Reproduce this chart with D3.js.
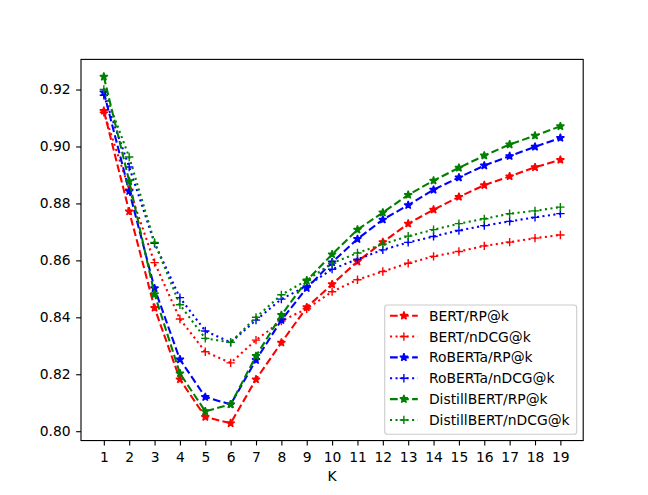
<!DOCTYPE html>
<html>
<head>
<meta charset="utf-8">
<script src="https://cdn.jsdelivr.net/npm/d3@7"></script>
<style>
  html, body { margin: 0; padding: 0; background: #fff; }
  svg { display: block; }
  text { font-family: "DejaVu Sans", sans-serif; }
</style>
</head>
<body>
<div id="chart"></div>
<script>
const K = [1,2,3,4,5,6,7,8,9,10,11,12,13,14,15,16,17,18,19];
const xTickLabels = K.map(String);
const yTicks = [0.80, 0.82, 0.84, 0.86, 0.88, 0.90, 0.92];

const bertRP      = [0.9125,0.8772,0.8433,0.8182,0.8050,0.8028,0.8182,0.8311,0.8435,0.8516,0.8596,0.8664,0.8729,0.8778,0.8823,0.8864,0.8895,0.8927,0.8953];
const bertNDCG    = [0.9120,0.8850,0.8592,0.8394,0.8279,0.8240,0.8320,0.8387,0.8430,0.8490,0.8532,0.8561,0.8590,0.8614,0.8631,0.8651,0.8664,0.8678,0.8689];
const robertaRP   = [0.9190,0.8843,0.8502,0.8252,0.8120,0.8094,0.8250,0.8390,0.8503,0.8593,0.8675,0.8743,0.8794,0.8848,0.8891,0.8933,0.8966,0.8999,0.9030];
const robertaNDCG = [0.9180,0.8928,0.8660,0.8469,0.8352,0.8312,0.8390,0.8464,0.8510,0.8569,0.8604,0.8637,0.8663,0.8684,0.8705,0.8722,0.8737,0.8751,0.8764];
const distilRP    = [0.9245,0.8878,0.8481,0.8203,0.8070,0.8094,0.8264,0.8408,0.8529,0.8621,0.8708,0.8768,0.8830,0.8880,0.8925,0.8968,0.9007,0.9038,0.9071];
const distilNDCG  = [0.9200,0.8963,0.8663,0.8444,0.8326,0.8312,0.8400,0.8479,0.8530,0.8590,0.8626,0.8657,0.8685,0.8708,0.8729,0.8746,0.8764,0.8774,0.8787];

const seriesNames = ["BERT/RP@k","BERT/nDCG@k","RoBERTa/RP@k","RoBERTa/nDCG@k","DistillBERT/RP@k","DistillBERT/nDCG@k"];
const seriesValues = [bertRP, bertNDCG, robertaRP, robertaNDCG, distilRP, distilNDCG];
const seriesColors = ["#ff0000","#ff0000","#0000ff","#0000ff","#008000","#008000"];
const seriesKinds  = ["rp","ndcg","rp","ndcg","rp","ndcg"];

(function () {
const W = 648, H = 495;
const pt = 100/72;
const axL = 81, axR = 583.2, axT = 59.4, axB = 440.55;

const allVals = seriesValues.flat();
const vmin = d3.min(allVals), vmax = d3.max(allVals);
const vm = (vmax - vmin) * 0.05;
const km = (d3.max(K) - d3.min(K)) * 0.05;

const x = d3.scaleLinear().domain([d3.min(K) - km, d3.max(K) + km]).range([axL, axR]);
const y = d3.scaleLinear().domain([vmin - vm, vmax + vm]).range([axB, axT]);

const svg = d3.select("#chart").append("svg").attr("width", W).attr("height", H);
svg.append("rect").attr("width", W).attr("height", H).attr("fill", "#fff");

const fontSize = 10 * pt;
const lw = 1.5 * pt;
const dashRP = [3.7*1.5*pt, 1.6*1.5*pt].join(",");
const dashND = [1*1.5*pt, 1.65*1.5*pt].join(",");

function starPath(r) {
  const pts = [];
  for (let i = 0; i < 10; i++) {
    const th = 2*Math.PI/10*i + Math.PI/2;
    const rr = i % 2 === 0 ? r : r*0.381966;
    pts.push([rr*Math.cos(th), -rr*Math.sin(th)]);
  }
  return "M" + pts.map(p => p[0].toFixed(3) + "," + p[1].toFixed(3)).join("L") + "Z";
}
const msR = 3 * pt;
const STAR = starPath(msR);
const PLUS = `M${-msR},0L${msR},0M0,${-msR}L0,${msR}`;

function drawMarker(g, kind, color, cx, cy) {
  if (kind === "rp") {
    g.append("path").attr("d", STAR).attr("transform", `translate(${cx},${cy})`)
      .attr("fill", color).attr("stroke", color).attr("stroke-width", 1*pt)
      .attr("stroke-linejoin", "bevel");
  } else {
    g.append("path").attr("d", PLUS).attr("transform", `translate(${cx},${cy})`)
      .attr("fill", "none").attr("stroke", color).attr("stroke-width", 1*pt);
  }
}

const xAxis = d3.axisBottom(x).tickValues(K).tickFormat((d,i) => xTickLabels[i])
  .tickSizeInner(3.5*pt).tickSizeOuter(0).tickPadding(6.3);
const gx = svg.append("g").attr("transform", `translate(0,${axB})`).call(xAxis);
gx.select(".domain").remove();
gx.selectAll("line").attr("stroke", "#000").attr("stroke-width", 0.8*pt);
gx.selectAll("text").attr("font-family", "DejaVu Sans").attr("font-size", fontSize).attr("fill", "#000");

const yAxis = d3.axisLeft(y).tickValues(yTicks).tickFormat(d3.format(".2f"))
  .tickSizeInner(3.5*pt).tickSizeOuter(0).tickPadding(5.6);
const gy = svg.append("g").attr("transform", `translate(${axL},0)`).call(yAxis);
gy.select(".domain").remove();
gy.selectAll("line").attr("stroke", "#000").attr("stroke-width", 0.8*pt);
gy.selectAll("text").attr("font-family", "DejaVu Sans").attr("font-size", fontSize).attr("fill", "#000");

svg.append("clipPath").attr("id", "clip").append("rect")
  .attr("x", axL).attr("y", axT).attr("width", axR-axL).attr("height", axB-axT);

const plot = svg.append("g");
const line = d3.line().x((d,i) => x(K[i])).y(d => y(d));

seriesValues.forEach((vals, si) => {
  const g = plot.append("g");
  g.append("path").datum(vals).attr("d", line)
    .attr("clip-path", "url(#clip)")
    .attr("fill", "none").attr("stroke", seriesColors[si]).attr("stroke-width", lw)
    .attr("stroke-dasharray", seriesKinds[si] === "rp" ? dashRP : dashND)
    .attr("stroke-linecap", "butt").attr("stroke-linejoin", "round");
  vals.forEach((v, i) => drawMarker(g, seriesKinds[si], seriesColors[si], x(K[i]), y(v)));
});

svg.append("rect").attr("x", axL).attr("y", axT).attr("width", axR-axL).attr("height", axB-axT)
  .attr("fill", "none").attr("stroke", "#000").attr("stroke-width", 0.8*pt);

svg.append("text").attr("x", (axL+axR)/2).attr("y", 481).attr("text-anchor", "middle")
  .attr("font-size", fontSize).attr("fill", "#000").text("K");

const lg = svg.append("g");
const lgX0 = 384.7, lgY0 = 305, lgX1 = 576.7, lgY1 = 434.3;
lg.append("rect").attr("x", lgX0).attr("y", lgY0).attr("width", lgX1-lgX0).attr("height", lgY1-lgY0)
  .attr("rx", 2.8).attr("ry", 2.8)
  .attr("fill", "#fff").attr("fill-opacity", 0.8).attr("stroke", "#cccccc").attr("stroke-width", 0.8*pt);
const rowY0 = 315.7, rowStep = 20.85;
const hx0 = 390, hx1 = 390 + 2.0*fontSize;
seriesNames.forEach((name, si) => {
  const cy = rowY0 + si*rowStep;
  lg.append("line").attr("x1", hx0).attr("x2", hx1).attr("y1", cy).attr("y2", cy)
    .attr("stroke", seriesColors[si]).attr("stroke-width", lw)
    .attr("stroke-dasharray", seriesKinds[si] === "rp" ? dashRP : dashND);
  drawMarker(lg, seriesKinds[si], seriesColors[si], (hx0+hx1)/2, cy);
  lg.append("text").attr("x", hx1 + 0.8*fontSize).attr("y", cy + 5).attr("font-size", fontSize)
    .attr("fill", "#000").text(name);
});
})();
</script>
</body>
</html>
